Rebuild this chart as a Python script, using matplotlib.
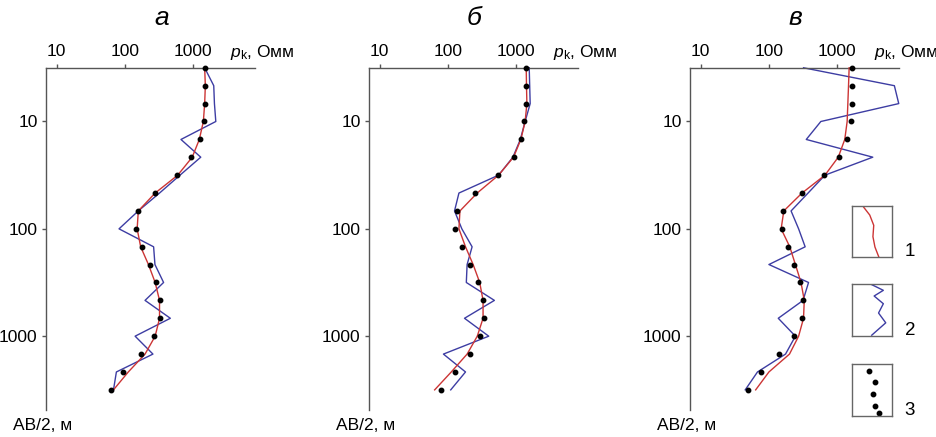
import numpy as np
import matplotlib
matplotlib.use("Agg")
import matplotlib.pyplot as plt

plt.rcParams['font.family'] = ['Liberation Sans', 'DejaVu Sans']
plt.rcParams['mathtext.fontset'] = 'custom'
plt.rcParams['mathtext.rm'] = 'Liberation Sans'
plt.rcParams['mathtext.it'] = 'Liberation Sans:italic'

# разносы AB/2, м (6 точек на декаду)
ab2 = [3.16, 4.64, 6.81, 10, 14.7, 21.5, 31.6, 46.4, 68.1, 100,
       147, 215, 316, 464, 681, 1000, 1468, 2154, 3162]

# панель а
a_red = [1469, 1503, 1469, 1406, 1227, 966, 593, 277, 157, 151,
         170, 221, 277, 321, 321, 277, 197, 112, 68]
a_blue = [1469, 1995, 2042, 2138, 661, 1288, 640, 321, 157, 82,
          263, 275, 368, 197, 462, 141, 257, 75, 68]
a_dots = [1469, 1503, 1486, 1422, 1259, 912, 579, 277, 154, 145,
          178, 229, 287, 329, 329, 269, 172, 94, 62]

# панель б
b_red = [1400, 1413, 1432, 1349, 1169, 912, 552, 268, 150, 145,
         181, 234, 292, 327, 327, 269, 191, 112, 64]
b_blue = [1549, 1574, 1600, 1349, 1148, 895, 552, 145, 125, 160,
          226, 191, 186, 479, 175, 396, 86, 181, 110]
b_dots = [1400, 1400, 1400, 1318, 1169, 912, 542, 253, 134, 129,
          162, 214, 275, 324, 335, 299, 214, 126, 78]

# панель в
c_red = [1493, 1462, 1429, 1396, 1288, 1035, 661, 305, 165, 151,
         202, 244, 295, 329, 321, 272, 200, 100, 64]
c_blue = [321, 6855, 7943, 575, 352, 3311, 661, 374, 211, 272,
          339, 100, 380, 316, 137, 244, 175, 68, 45]
c_dots = [1671, 1633, 1633, 1563, 1396, 1072, 646, 305, 163, 153,
          188, 236, 288, 316, 305, 236, 141, 76, 50]

titles = ['а', 'б', 'в']
x_ticks = [10, 100, 1000]
y_ticks = [10, 100, 1000]

# образцы для условных обозначений
leg_red_x = [0.30, 0.45, 0.55, 0.53, 0.58, 0.68]
leg_red_y = [0.97, 0.82, 0.62, 0.40, 0.20, 0.00]
leg_blue_x = [0.50, 0.79, 0.56, 0.79, 0.67, 0.85, 0.50]
leg_blue_y = [0.99, 0.88, 0.77, 0.62, 0.44, 0.25, 0.01]
leg_dot_x = [0.44, 0.58, 0.54, 0.58, 0.68]
leg_dot_y = [0.88, 0.65, 0.43, 0.20, 0.06]
leg_labels = ['1', '2', '3']

RED = '#cc3535'
BLUE = '#3d3da3'
SPINE = '#555555'

fig = plt.figure(figsize=(9.37, 4.37), dpi=100)

panels = [(a_red, a_blue, a_dots), (b_red, b_blue, b_dots), (c_red, c_blue, c_dots)]
lefts = [0.0491, 0.3938, 0.7364]
title_x = [0.555, 0.502, 0.505]

for i, (red, blue, dots) in enumerate(panels):
    ax = fig.add_axes([lefts[i], 0.0618, 0.223, 0.783])
    ax.plot(blue, ab2, color=BLUE, lw=1.0, clip_on=False, zorder=2)
    ax.plot(red, ab2, color=RED, lw=1.0, clip_on=False, zorder=3)
    ax.plot(dots, ab2, 'o', color='black', ms=3.2, clip_on=False, zorder=4)

    ax.set_xscale('log')
    ax.set_yscale('log')
    ax.set_xlim(7.0, 8000)
    ax.set_ylim(4870, 3.162)

    ax.xaxis.tick_top()
    ax.set_xticks(x_ticks)
    ax.set_xticklabels([str(t) for t in x_ticks])
    ax.set_yticks(y_ticks)
    ax.set_yticklabels([str(t) for t in y_ticks])
    ax.minorticks_off()
    ax.tick_params(axis='both', length=3, width=1, color=SPINE, pad=3,
                   labelsize=12.5)

    for side in ['right', 'bottom']:
        ax.spines[side].set_visible(False)
    for side in ['left', 'top']:
        ax.spines[side].set_color(SPINE)
        ax.spines[side].set_linewidth(1.0)

    ax.text(0.88, 1.046, r'$p_{\mathrm{k}}$, Омм', transform=ax.transAxes,
            ha='left', va='center', fontsize=12.5)
    ax.text(-0.017, -0.044, 'AB/2, м', transform=ax.transAxes,
            ha='center', va='center', fontsize=12.5)
    ax.text(title_x[i], 1.145, titles[i], transform=ax.transAxes,
            ha='center', va='center', fontsize=19, style='italic')

# условные обозначения
box_bottoms = [0.4112, 0.2318, 0.0481]
samples = [(leg_red_x, leg_red_y, '-', RED),
           (leg_blue_x, leg_blue_y, '-', BLUE),
           (leg_dot_x, leg_dot_y, 'o', 'black')]
for j, (sx, sy, st, col) in enumerate(samples):
    lx = fig.add_axes([0.909, box_bottoms[j], 0.0427, 0.118])
    if st == 'o':
        lx.plot(sx, sy, 'o', color=col, ms=3.2)
    else:
        lx.plot(sx, sy, color=col, lw=1.0)
    lx.set_xlim(0, 1)
    lx.set_ylim(0, 1)
    lx.set_xticks([])
    lx.set_yticks([])
    for s in lx.spines.values():
        s.set_color('#666666')
        s.set_linewidth(1.0)
    fig.text(0.971, box_bottoms[j] + 0.013, leg_labels[j], ha='center',
             va='center', fontsize=13.5)

fig.savefig('out.png', dpi=100)
